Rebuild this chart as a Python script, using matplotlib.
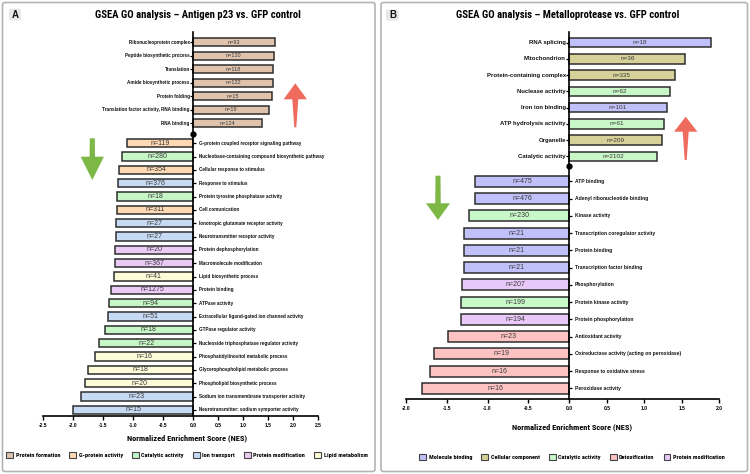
import numpy as np
import matplotlib
matplotlib.use("Agg")
import matplotlib.pyplot as plt
from matplotlib import font_manager, transforms
from matplotlib.patches import Patch, FancyBboxPatch, Polygon

# ---- panel A: Antigen p23 vs GFP control ----
a_up_terms = ["Ribonucleoprotein complex", "Peptide biosynthetic process", "Translation",
              "Amide biosynthetic process", "Protein folding",
              "Translation factor activity, RNA binding", "RNA binding"]
a_up_nes = [1.64, 1.61, 1.60, 1.59, 1.58, 1.51, 1.37]
a_up_n = [93, 120, 118, 122, 15, 19, 124]
a_up_cat = ["Protein formation"] * 7

a_dn_terms = ["G-protein coupled receptor signaling pathway",
              "Nucleobase-containing compound biosynthetic pathway",
              "Cellular response to stimulus", "Response to stimulus",
              "Protein tyrosine phosphatase activity", "Cell comunication",
              "Ionotropic glutamate receptor activity", "Neurotransmitter receptor activity",
              "Protein dephosphorylation", "Macromolecule modification",
              "Lipid biosynthetic process", "Protein binding", "ATPase activity",
              "Extracellular ligand-gated ion channed activity", "GTPase regulator activity",
              "Nucleoside triphosphatase regulator activity",
              "Phosphatidylinositol metabolic process", "Glycerophospholipid metabolic process",
              "Phospholipid biosynthetic process",
              "Sodium ion transmembrane transporter activity",
              "Neurotransmitter: sodium symporter activity"]
a_dn_nes = [-1.11, -1.19, -1.24, -1.255, -1.27, -1.28, -1.29, -1.29, -1.30, -1.30,
            -1.33, -1.37, -1.41, -1.42, -1.48, -1.57, -1.64, -1.75, -1.80, -1.88, -2.01]
a_dn_n = [119, 280, 354, 376, 18, 311, 27, 27, 20, 367, 41, 1275, 94, 51, 18, 22,
          16, 18, 20, 23, 15]
a_dn_cat = ["G-protein activity", "Catalytic activity", "G-protein activity", "Ion transport",
            "Catalytic activity", "G-protein activity", "Ion transport", "Ion transport",
            "Protein modification", "Protein modification", "Lipid metabolism",
            "Protein modification", "Catalytic activity", "Ion transport",
            "Catalytic activity", "Catalytic activity", "Lipid metabolism",
            "Lipid metabolism", "Lipid metabolism", "Ion transport", "Ion transport"]
a_palette = {"Protein formation": "#dfc3ac", "G-protein activity": "#fed9b4",
             "Catalytic activity": "#c6f6c6", "Ion transport": "#c6daf4",
             "Protein modification": "#eccaf6", "Lipid metabolism": "#fefbd8"}
a_ticks = [-2.5, -2.0, -1.5, -1.0, -0.5, 0.0, 0.5, 1.0, 1.5, 2.0, 2.5]

# ---- panel B: Metalloprotease vs GFP control ----
b_up_terms = ["RNA splicing", "Mitochondrion", "Protein-containing complex",
              "Nuclease activity", "Iron ion binding", "ATP hydrolysis activity",
              "Organelle", "Catalytic activity"]
b_up_nes = [1.885, 1.547, 1.405, 1.347, 1.299, 1.259, 1.236, 1.165]
b_up_n = [18, 36, 335, 62, 101, 61, 209, 2102]
b_up_cat = ["Molecule binding", "Cellular component", "Cellular component",
            "Catalytic activity", "Molecule binding", "Catalytic activity",
            "Cellular component", "Catalytic activity"]

b_dn_terms = ["ATP binding", "Adenyl ribonucleotide binding", "Kinase activity",
              "Transcription coregulator activity", "Protein binding",
              "Transcription factor binding", "Phosphorylation", "Protein kinase activity",
              "Protein phosphorylation", "Antioxidant activity",
              "Oxireductase activity (acting on peroxidase)", "Response to oxidative stress",
              "Peroxidase activity"]
b_dn_nes = [-1.149, -1.157, -1.222, -1.291, -1.291, -1.287, -1.315, -1.32, -1.324,
            -1.487, -1.654, -1.699, -1.805]
b_dn_n = [475, 476, 230, 21, 21, 21, 207, 199, 194, 23, 19, 16, 16]
b_dn_cat = ["Molecule binding", "Molecule binding", "Catalytic activity",
            "Molecule binding", "Molecule binding", "Molecule binding",
            "Protein modification", "Catalytic activity", "Protein modification",
            "Detoxification", "Detoxification", "Detoxification", "Detoxification"]
b_palette = {"Molecule binding": "#c0c0fb", "Cellular component": "#d6d198",
             "Catalytic activity": "#c8f8c8", "Detoxification": "#fdc2c2",
             "Protein modification": "#e8c8f8"}
b_ticks = [-2.0, -1.5, -1.0, -0.5, 0.0, 0.5, 1.0, 1.5, 2.0]

W, H = 750, 474

# fonts: look for a condensed bold face for the headings, else shrink DejaVu
entries = font_manager.fontManager.ttflist
names = {f.name for f in entries}
label_font = "Liberation Sans" if "Liberation Sans" in names else "DejaVu Sans"
narrow, stretch, nscale = "DejaVu Sans", "normal", 0.78
for nm in ["Roboto Condensed", "Liberation Sans Narrow", "Open Sans Condensed",
           "Noto Sans Condensed", "DejaVu Sans Condensed"]:
    if nm in names:
        narrow, stretch, nscale = nm, "normal", 1.0
        break
else:
    for f in entries:
        if f.name in ("DejaVu Sans", "Noto Sans", "Open Sans", "Roboto", "Inter") \
                and "condensed" in str(f.stretch) and "bold" in str(f.weight).lower() + \
                ("bold" if str(f.weight).isdigit() and int(f.weight) >= 600 else ""):
            narrow, stretch, nscale = f.name, "condensed", 1.0
            break
head = dict(family=narrow, fontstretch=stretch, fontweight="bold")


def fx(x):
    return x / W


def fy(y):
    return 1 - y / H


def arrow(fig, xc, y_tail, y_tip, head_w, head_len, w_tail, w_neck, color):
    s = 1 if y_tip > y_tail else -1
    y_neck = y_tip - s * head_len
    pts = [(xc - w_tail / 2, y_tail), (xc - w_neck / 2, y_neck), (xc - head_w / 2, y_neck),
           (xc, y_tip), (xc + head_w / 2, y_neck), (xc + w_neck / 2, y_neck),
           (xc + w_tail / 2, y_tail)]
    fig.add_artist(Polygon([(fx(a), fy(b)) for a, b in pts], closed=True,
                           transform=fig.transFigure, facecolor=color, edgecolor="none"))


def panel(fig, lay, up_terms, up_nes, up_n, up_cat, dn_terms, dn_nes, dn_n, dn_cat,
          palette, ticks):
    x0, x1, ytop, ybot = lay["x0"], lay["x1"], lay["ytop"], lay["ybot"]
    ax = fig.add_axes([fx(x0), fy(ybot), fx(x1 - x0), (ybot - ytop) / H])
    k = lay["k"]
    ax.set_xscale("function", functions=(lambda v: np.where(v < 0, v * k, v),
                                         lambda v: np.where(v < 0, v / k, v)))
    ax.set_xlim(ticks[0], ticks[-1])
    ax.set_ylim(ybot, ytop)
    ax.patch.set_visible(False)

    y_up = lay["up0"] + np.arange(len(up_terms)) * lay["up_step"]
    y_dn = lay["dn0"] + np.arange(len(dn_terms)) * lay["dn_step"]

    for ys, vals, ns, cats, hgt, nfs in [(y_up, up_nes, up_n, up_cat, lay["up_h"], lay["up_nfs"]),
                                         (y_dn, dn_nes, dn_n, dn_cat, lay["dn_h"], lay["dn_nfs"])]:
        ax.barh(ys, vals, height=hgt, color=[palette[c] for c in cats],
                edgecolor="#2e2e2e", linewidth=1.1, zorder=2)
        for yy, v, n in zip(ys, vals, ns):
            ax.text(v / 2, yy, f"n={n}", ha="center", va="center", fontsize=nfs,
                    color="#3a3a3a", family=label_font, zorder=3)

    # category labels with little ticks on the zero line
    ax.plot(np.zeros(len(y_up)), y_up, ls="none", marker=0, ms=2.5, mew=0.9, color="k",
            clip_on=False, zorder=4)
    ax.plot(np.zeros(len(y_dn)), y_dn, ls="none", marker=1, ms=2.5, mew=0.9, color="k",
            clip_on=False, zorder=4)
    left = transforms.offset_copy(ax.transData, fig=fig, x=-3.5, y=0, units="dots")
    right = transforms.offset_copy(ax.transData, fig=fig, x=5.5, y=0, units="dots")
    for yy, t in zip(y_up, up_terms):
        ax.text(0, yy, t, transform=left, ha="right", va="center", fontsize=lay["up_fs"],
                fontweight="bold", family=label_font, color="#111111")
    for yy, t in zip(y_dn, dn_terms):
        ax.text(0, yy, t, transform=right, ha="left", va="center", fontsize=lay["dn_fs"],
                fontweight="bold", family=label_font, color="#111111")
    ax.plot([0], [lay["dot"]], "o", ms=3.5, color="k", clip_on=False, zorder=5)

    ax.spines["left"].set_position(("data", 0))
    ax.spines["right"].set_visible(False)
    ax.spines["top"].set_visible(False)
    for sp in ["left", "bottom"]:
        ax.spines[sp].set_linewidth(1.2)
    ax.tick_params(axis="y", left=False, labelleft=False)
    ax.set_xticks(ticks)
    ax.set_xticklabels([f"{t:.1f}" for t in ticks], fontsize=3.6, fontweight="bold",
                       family=label_font)
    ax.tick_params(axis="x", length=3, width=1, pad=2)
    return ax


fig = plt.figure(figsize=(W / 100, H / 100), dpi=100)
fig.patch.set_facecolor("white")

# panel frames and letters
for (xa, xb) in [(2.5, 375), (381, 747.5)]:
    fig.add_artist(FancyBboxPatch((fx(xa), fy(471.5)), fx(xb - xa), (471.5 - 2.5) / H,
                                  boxstyle="round,pad=0,rounding_size=0.004",
                                  transform=fig.transFigure, facecolor="none",
                                  edgecolor="#b4b4b4", linewidth=1.2))
for (xa, xb, ya, yb, lt) in [(9, 21, 8.5, 20.5, "A"), (386, 399, 9.5, 20.5, "B")]:
    fig.add_artist(FancyBboxPatch((fx(xa), fy(yb)), fx(xb - xa), (yb - ya) / H,
                                  boxstyle="round,pad=0,rounding_size=0.003",
                                  transform=fig.transFigure, facecolor="#e8e8e8",
                                  edgecolor="none"))
    fig.text(fx((xa + xb) / 2), fy((ya + yb) / 2), lt, ha="center", va="center",
             fontsize=7, fontweight="bold", family=label_font, color="#111111")

lay_a = dict(x0=43.3, x1=318.3, ytop=32, ybot=416, k=1.2,
             up0=42, up_step=13.5, dn0=143.3, dn_step=13.33, up_h=8, dn_h=8.3, dot=134,
             up_fs=3.3, dn_fs=3.3, up_nfs=4.0, dn_nfs=5.0)
lay_b = dict(x0=405.7, x1=719.3, ytop=31.7, ybot=399.3, k=81.8 / 75,
             up0=42.7, up_step=16.23, dn0=181.3, dn_step=17.25, up_h=9.5, dn_h=11, dot=165.7,
             up_fs=4.35, dn_fs=3.6, up_nfs=4.6, dn_nfs=5.0)

panel(fig, lay_a, a_up_terms, a_up_nes, a_up_n, a_up_cat, a_dn_terms, a_dn_nes, a_dn_n,
      a_dn_cat, a_palette, a_ticks)
panel(fig, lay_b, b_up_terms, b_up_nes, b_up_n, b_up_cat, b_dn_terms, b_dn_nes, b_dn_n,
      b_dn_cat, b_palette, b_ticks)

# titles and axis labels
ts, xs, ls = 7.7 * nscale, 6.0 * nscale, 4.5 * nscale
fig.text(fx(197.5), fy(15), "GSEA GO analysis \u2013 Antigen p23 vs. GFP control",
         ha="center", va="center", fontsize=ts, **head)
fig.text(fx(567.8), fy(15), "GSEA GO analysis \u2013 Metalloprotease vs. GFP control",
         ha="center", va="center", fontsize=ts, **head)
fig.text(fx(187), fy(438), "Normalized Enrichment Score (NES)", ha="center", va="center",
         fontsize=xs, **head)
fig.text(fx(572.5), fy(427.3), "Normalized Enrichment Score (NES)", ha="center",
         va="center", fontsize=xs, **head)

# up / down arrows
red, green = "#ee6b5d", "#7db847"
arrow(fig, 295.3, 127.3, 83.3, 23.4, 16, 2, 6, red)
arrow(fig, 92.3, 138.3, 180, 23.3, 23.3, 5, 5.5, green)
arrow(fig, 685.7, 160, 116.7, 23.3, 15, 2, 6, red)
arrow(fig, 438, 175.7, 220, 24, 16.7, 5, 5.5, green)

# legends
for pal, cx, cy in [(a_palette, 187, 455), (b_palette, 572, 456.7)]:
    handles = [Patch(facecolor=c, edgecolor="#444444", linewidth=0.8) for c in pal.values()]
    fig.legend(handles, list(pal.keys()), loc="center", bbox_to_anchor=(fx(cx), fy(cy)),
               ncol=len(pal), frameon=False, handlelength=1.1, handleheight=1.1,
               handletextpad=0.4, columnspacing=1.45,
               prop={"family": narrow, "stretch": stretch, "weight": "bold", "size": ls})

fig.savefig("out.png", dpi=100)
